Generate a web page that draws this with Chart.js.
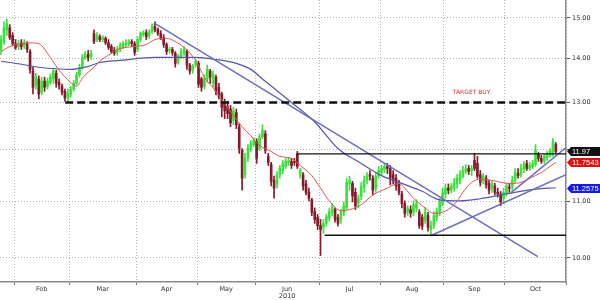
<!DOCTYPE html>
<html>
<head>
<meta charset="utf-8">
<script src="https://cdn.jsdelivr.net/npm/chart.js@4.4.0/dist/chart.umd.min.js"></script>
<style>
  html, body { margin: 0; padding: 0; background: #fff; }
  #wrap { width: 600px; height: 300px; }
</style>
</head>
<body>
<div id="wrap"><canvas id="chart" width="600" height="300"></canvas></div>
<script>
// daily candles, one per trading day (index 0 = last days of Jan 2010)
const opens = [
  14.22,14.41,14.70,14.75,14.56,14.36,14.29,14.38,14.31,14.36,
  14.17,13.71,13.39,13.53,13.23,13.48,13.36,13.45,13.53,13.66,
  13.45,13.36,13.25,13.10,13.19,13.30,13.43,13.62,13.82,14.03,
  14.10,14.06,14.61,14.46,14.53,14.46,14.49,14.38,14.29,14.20,
  14.15,14.22,14.29,14.34,14.36,14.41,14.36,14.22,14.46,14.58,
  14.63,14.56,14.65,14.78,14.70,14.61,14.51,14.34,14.20,14.22,
  14.13,13.94,14.06,14.15,14.17,13.85,13.73,13.85,13.89,13.53,
  13.36,13.53,13.71,13.43,13.57,13.34,13.19,12.97,12.90,12.86,
  12.61,12.78,12.48,11.99,11.51,11.83,12.03,12.11,12.17,12.03,
  12.27,12.33,11.87,11.71,11.40,11.33,11.51,11.59,11.67,11.75,
  11.77,11.77,11.91,11.51,11.51,11.33,11.17,11.03,10.81,10.71,
  10.56,10.53,10.60,10.69,10.80,10.85,10.71,10.67,10.80,10.88,
  11.33,11.34,11.17,10.97,11.10,11.27,11.40,11.51,11.44,11.25,
  11.49,11.55,11.61,11.67,11.63,11.51,11.44,11.33,11.14,10.96,
  10.81,10.85,10.80,10.88,10.80,10.71,10.65,10.74,10.49,10.56,
  10.71,10.80,10.97,11.14,11.25,11.21,11.25,11.33,11.40,11.48,
  11.57,11.63,11.59,11.79,11.73,11.51,11.40,11.44,11.34,11.25,
  11.29,11.17,11.14,11.06,11.16,11.27,11.29,11.40,11.53,11.51,
  11.61,11.73,11.63,11.67,11.71,11.91,11.83,11.79,11.85,11.89,11.91,12.11
]
const highs = [
  14.56,14.90,14.97,14.83,14.63,14.46,14.44,14.46,14.46,14.41,
  14.22,13.80,13.66,13.60,13.57,13.57,13.55,13.64,13.78,13.73,
  13.53,13.41,13.30,13.30,13.36,13.50,13.68,13.87,14.10,14.17,
  14.20,14.20,14.70,14.63,14.58,14.56,14.53,14.46,14.34,14.27,
  14.29,14.38,14.41,14.46,14.46,14.46,14.41,14.53,14.65,14.68,
  14.70,14.70,14.85,14.90,14.75,14.68,14.58,14.38,14.27,14.27,
  14.17,14.10,14.24,14.29,14.22,13.89,13.87,13.98,13.94,13.57,
  13.62,13.85,13.75,13.71,13.62,13.43,13.23,13.08,13.03,12.94,
  12.90,12.86,12.54,12.03,11.93,12.11,12.19,12.25,12.23,12.33,
  12.52,12.40,11.93,11.75,11.48,11.57,11.69,11.79,11.83,11.85,
  11.83,11.83,11.97,11.63,11.55,11.40,11.25,11.06,10.88,10.76,
  10.67,10.67,10.76,10.87,10.96,10.88,10.76,10.85,10.99,11.44,
  11.48,11.38,11.25,11.12,11.36,11.48,11.55,11.59,11.49,11.55,
  11.67,11.69,11.73,11.73,11.69,11.59,11.51,11.40,11.19,11.01,
  10.92,10.92,11.01,11.03,10.85,10.76,10.88,10.80,10.64,10.81,
  10.88,11.06,11.25,11.33,11.33,11.34,11.44,11.51,11.59,11.67,
  11.71,11.69,11.69,11.93,11.87,11.59,11.53,11.49,11.40,11.38,
  11.34,11.25,11.19,11.25,11.34,11.34,11.48,11.63,11.63,11.71,
  11.77,11.79,11.75,11.79,12.11,11.95,11.89,11.91,11.97,12.03,12.23,12.15
]
const lows = [
  14.10,14.34,14.56,14.46,14.31,14.22,14.22,14.22,14.24,14.15,
  13.66,13.19,13.30,13.08,13.17,13.25,13.30,13.41,13.43,13.34,
  13.30,13.17,13.03,13.01,13.12,13.25,13.39,13.57,13.75,13.98,
  13.94,13.98,14.36,14.41,14.41,14.41,14.34,14.22,14.13,14.08,
  14.08,14.17,14.24,14.29,14.31,14.29,14.08,14.17,14.41,14.53,
  14.46,14.49,14.61,14.65,14.56,14.46,14.27,14.10,14.13,14.08,
  13.80,13.87,14.01,14.08,13.75,13.64,13.66,13.80,13.34,13.25,
  13.30,13.45,13.43,13.34,13.17,13.08,12.69,12.65,12.65,12.48,
  12.52,12.44,11.93,11.21,11.44,11.77,11.97,12.07,11.73,11.99,
  12.23,11.93,11.69,11.29,11.06,11.25,11.44,11.53,11.63,11.69,
  11.63,11.69,11.63,11.44,11.21,11.12,11.01,10.74,10.60,10.49,
  10.04,10.42,10.55,10.64,10.74,10.62,10.55,10.60,10.74,10.85,
  11.21,10.99,10.85,10.88,11.03,11.17,11.33,11.40,11.12,11.17,
  11.44,11.49,11.55,11.53,11.31,11.33,11.21,11.12,10.88,10.71,
  10.74,10.71,10.74,10.81,10.51,10.49,10.60,10.46,10.38,10.51,
  10.64,10.74,10.92,11.06,11.14,11.16,11.19,11.25,11.33,11.44,
  11.53,11.51,11.49,11.59,11.44,11.29,11.33,11.25,11.14,11.17,
  11.12,11.08,10.92,10.96,11.10,11.17,11.21,11.34,11.44,11.46,
  11.55,11.59,11.59,11.63,11.67,11.77,11.73,11.73,11.79,11.85,11.87,11.93
]
const closes = [
  14.46,14.75,14.85,14.51,14.36,14.27,14.36,14.29,14.38,14.22,
  13.75,13.34,13.57,13.19,13.48,13.34,13.48,13.57,13.71,13.43,
  13.39,13.23,13.10,13.21,13.30,13.43,13.62,13.80,14.03,14.10,
  14.03,14.13,14.41,14.56,14.46,14.51,14.38,14.27,14.17,14.13,
  14.22,14.31,14.36,14.38,14.41,14.36,14.15,14.46,14.61,14.63,
  14.53,14.65,14.78,14.70,14.61,14.51,14.34,14.17,14.22,14.15,
  13.89,14.06,14.17,14.22,13.85,13.71,13.82,13.94,13.41,13.34,
  13.53,13.75,13.57,13.64,13.25,13.14,12.90,12.82,12.76,12.56,
  12.82,12.52,12.03,11.44,11.83,12.03,12.13,12.19,11.83,12.27,
  12.40,11.99,11.75,11.38,11.25,11.51,11.63,11.73,11.77,11.79,
  11.69,11.75,11.67,11.59,11.29,11.17,11.06,10.80,10.67,10.56,
  10.49,10.60,10.71,10.81,10.90,10.67,10.60,10.80,10.92,11.36,
  11.40,11.10,10.92,11.06,11.29,11.40,11.48,11.48,11.21,11.48,
  11.59,11.63,11.67,11.63,11.44,11.40,11.29,11.17,10.96,10.78,
  10.87,10.78,10.94,10.96,10.56,10.55,10.81,10.53,10.56,10.74,
  10.81,10.99,11.16,11.25,11.21,11.29,11.36,11.44,11.51,11.59,
  11.63,11.57,11.63,11.63,11.48,11.36,11.48,11.31,11.21,11.33,
  11.17,11.14,10.99,11.17,11.29,11.25,11.40,11.55,11.49,11.63,
  11.71,11.63,11.69,11.73,11.99,11.83,11.77,11.87,11.91,11.99,12.17,11.97
]

// moving averages (day index, value)
const fastMaDays   = [0,3,7,10,13,17,20,24,26,28,32,34,38,40,43,46,50,53,57,60,63,67,70,74,77,80,83,86,89,93,96,100,103,107,110,113,117,120,124,128,133,137,139,142,146,149,152,156,159,162,165,169,172,176,179,182,186,189,191]
const fastMaValues = [14.17,14.29,14.36,14.38,14.36,14.03,13.73,13.45,13.36,13.55,13.80,13.94,14.13,14.22,14.27,14.29,14.34,14.46,14.49,14.41,14.27,13.96,13.57,13.25,12.97,12.72,12.48,12.29,12.09,11.97,11.87,11.83,11.69,11.49,11.25,11.01,10.83,10.85,10.94,11.12,11.25,11.34,11.25,11.06,10.88,10.78,10.80,10.94,11.17,11.36,11.42,11.40,11.36,11.34,11.36,11.44,11.55,11.67,11.7543]
const slowMaDays   = [0,7,13,24,30,34,41,53,67,74,81,86,90,96,100,108,116,124,131,138,145,151,158,165,174,184,191]
const slowMaValues = [13.94,13.87,13.80,13.75,13.82,13.91,13.96,14.03,14.03,13.98,13.89,13.75,13.53,13.21,13.00,12.58,12.03,11.73,11.49,11.34,11.19,11.03,11.01,11.05,11.14,11.23,11.2575]

// drawn studies: [day, price] end points
const downTrend    = [[52.8, 14.87], [184.8, 10.02]]
const upTrendLong  = [[147.9, 10.38], [194.5, 11.51]]
const upTrendShort = [[175.5, 11.16], [194.5, 12.05]]
const rangeTop     = [[101.7, 11.92], [194.5, 11.92]]
const rangeBottom  = [[111.4, 10.39], [194.5, 10.39]]
const targetBuy    = [[22.1, 13.0], [194.5, 13.0]]
const targetText   = 'TARGET BUY'

const monthNames  = ['Feb', 'Mar', 'Apr', 'May', 'Jun', 'Jul', 'Aug', 'Sep', 'Oct']
const monthStarts = [5, 24, 47, 68, 88, 110, 131, 153, 174, 195]
const yearLabel   = '2010'
const priceTicks  = [10, 11, 12, 13, 14, 15]

const GREEN = '#3ce23c'
const RED = '#861a2c'

const days = closes.map((c, i) => i)
const candleColors = days.map(i => (closes[i] >= opens[i] ? GREEN : RED))
const boundaries = monthStarts.map(d => d - 0.5)
const mids = monthNames.map((m, k) => (monthStarts[k] + monthStarts[k + 1]) / 2 - 0.5)

const near = (a, b) => Math.abs(a - b) < 0.01
const isBoundary = v => boundaries.some(b => near(b, v))
const toPoints = pts => pts.map(([x, y]) => ({x, y}))

const lineSet = (data, color, width, extra) => Object.assign({
  type: 'line',
  data,
  borderColor: color,
  borderWidth: width,
  pointRadius: 0,
  fill: false,
  order: 1
}, extra || {})

const lastLabels = [
  {value: closes[closes.length - 1], text: closes[closes.length - 1].toFixed(2), color: '#111'},
  {value: fastMaValues[fastMaValues.length - 1], text: fastMaValues[fastMaValues.length - 1].toFixed(4), color: '#e01010'},
  {value: slowMaValues[slowMaValues.length - 1], text: slowMaValues[slowMaValues.length - 1].toFixed(4), color: '#1a1ae6'}
]

const annotations = {
  id: 'annotations',
  afterDraw(chart) {
    const {ctx, chartArea, scales: {x, y}} = chart
    ctx.save()
    ctx.font = '6px "DejaVu Sans"'
    ctx.fillStyle = '#c83232'
    ctx.textAlign = 'center'
    ctx.textBaseline = 'middle'
    ctx.fillText(targetText, x.getPixelForValue(162), y.getPixelForValue(13.22))

    ctx.font = '7.5px "Liberation Sans"'
    ctx.textAlign = 'left'
    lastLabels.forEach(l => {
      const py = Math.round(y.getPixelForValue(l.value)) + 0.5
      const left = chartArea.right + 1
      ctx.fillStyle = l.color
      ctx.beginPath()
      ctx.moveTo(left, py)
      ctx.lineTo(left + 4, py - 4.5)
      ctx.lineTo(600, py - 4.5)
      ctx.lineTo(600, py + 4.5)
      ctx.lineTo(left + 4, py + 4.5)
      ctx.closePath()
      ctx.fill()
      ctx.fillStyle = '#fff'
      ctx.fillText(l.text, left + 5, py + 0.5)
    })
    ctx.restore()
  }
}

new Chart(document.getElementById('chart'), {
  type: 'bar',
  data: {
    datasets: [
      lineSet(toPoints(targetBuy), '#111', 2.5, {borderDash: [8, 4]}),
      lineSet(toPoints(rangeTop), '#111', 1.4),
      lineSet(toPoints(rangeBottom), '#111', 1.4),
      lineSet(toPoints(downTrend), '#6a6ec4', 1.5),
      lineSet(toPoints(upTrendLong), '#6a6ec4', 1.5),
      lineSet(toPoints(upTrendShort), '#6a6ec4', 1.5),
      lineSet(fastMaDays.map((d, i) => ({x: d, y: fastMaValues[i]})), '#e0554e', 1, {cubicInterpolationMode: 'monotone', order: 2}),
      lineSet(slowMaDays.map((d, i) => ({x: d, y: slowMaValues[i]})), '#5656aa', 1.2, {cubicInterpolationMode: 'monotone', order: 2}),
      {
        type: 'bar',
        data: days.map(i => ({x: i, y: [opens[i], closes[i]]})),
        backgroundColor: candleColors,
        barThickness: 2,
        minBarLength: 1,
        grouped: false,
        order: 5
      },
      {
        type: 'bar',
        data: days.map(i => ({x: i, y: [lows[i], highs[i]]})),
        backgroundColor: candleColors,
        barThickness: 1,
        grouped: false,
        order: 6
      }
    ]
  },
  options: {
    responsive: false,
    animation: false,
    layout: {padding: 0},
    plugins: {legend: {display: false}, tooltip: {enabled: false}},
    scales: {
      x: {
        type: 'linear',
        min: -0.35,
        max: 194.5,
        offset: false,
        afterBuildTicks: s => {
          s.ticks = boundaries.concat(mids).sort((a, b) => a - b).map(v => ({value: v}))
        },
        afterFit: s => {
          s.height = 18
          s.paddingLeft = 0
          s.paddingRight = 0
        },
        grid: {
          offset: false,
          color: c => (c.tick && isBoundary(c.tick.value) ? '#b4b4b4' : 'rgba(0,0,0,0)'),
          tickColor: c => (c.tick && isBoundary(c.tick.value) ? '#777' : 'rgba(0,0,0,0)'),
          tickLength: 3
        },
        border: {color: '#8a8a8a', width: 1.5, dash: [1, 2]},
        ticks: {
          autoSkip: false,
          maxRotation: 0,
          padding: 0,
          color: '#333',
          font: {family: 'DejaVu Sans', size: 6.5},
          callback: v => {
            const k = mids.findIndex(m => near(m, v))
            if (k < 0) return ''
            return monthNames[k] === 'Jun' ? [monthNames[k], yearLabel] : monthNames[k]
          }
        }
      },
      y: {
        type: 'logarithmic',
        position: 'right',
        min: 9.64,
        max: 15.46,
        beginAtZero: false,
        afterBuildTicks: s => {
          s.ticks = priceTicks.map(v => ({value: v}))
        },
        afterFit: s => {
          s.width = 34
          s.paddingTop = 0
          s.paddingBottom = 0
        },
        grid: {color: '#b4b4b4', tickColor: '#555', tickLength: 4},
        border: {color: '#8a8a8a', width: 1.5, dash: [1, 2]},
        ticks: {
          padding: 2,
          color: '#333',
          font: {family: 'DejaVu Sans', size: 6.5},
          callback: v => (v === 12 ? '' : Number(v).toFixed(2))
        }
      }
    }
  },
  plugins: [annotations]
})
</script>
</body>
</html>
